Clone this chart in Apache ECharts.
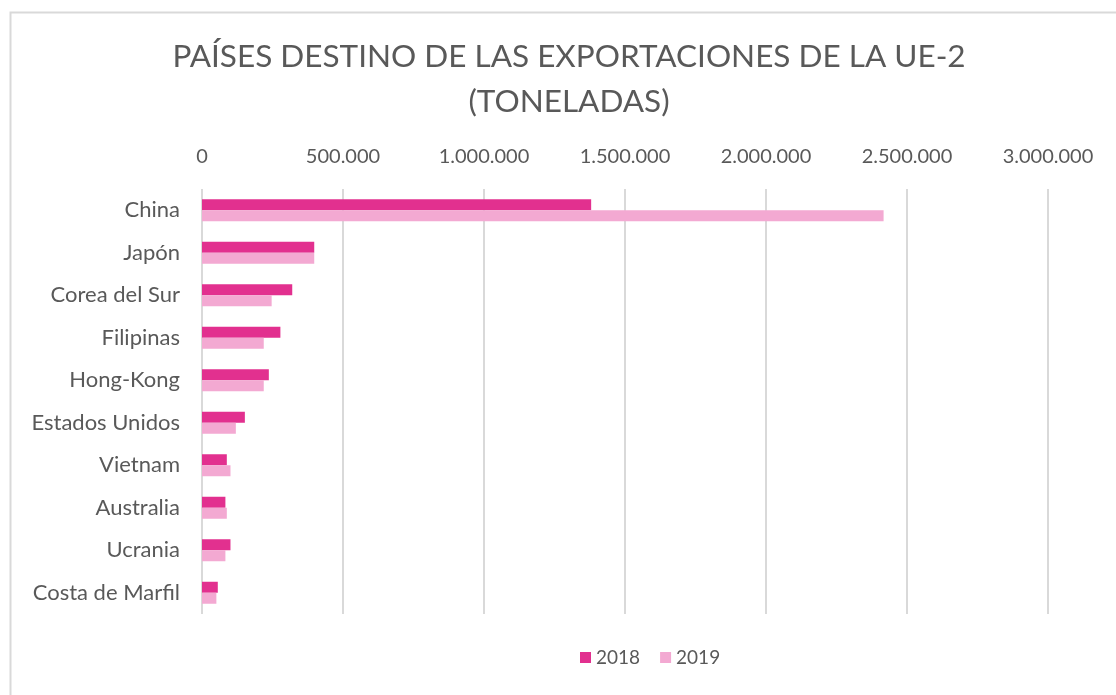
<!DOCTYPE html>
<html>
<head>
<meta charset="utf-8">
<script src="https://cdn.jsdelivr.net/npm/echarts@6/dist/echarts.min.js"></script>
<style>
  html, body { margin: 0; padding: 0; background: #fff; }
  #main { width: 1116px; height: 695px; }
</style>
</head>
<body>
<div id="main"></div>
<script>
// datos (toneladas)
var paises = ['China', 'Japón', 'Corea del Sur', 'Filipinas', 'Hong-Kong',
  'Estados Unidos', 'Vietnam', 'Australia', 'Ucrania', 'Costa de Marfil'];
var valores2018 = [1380000, 398000, 320000, 278000, 237000, 152000, 88000, 83000, 101000, 56000];
var valores2019 = [2417000, 398000, 247000, 219000, 219000, 120000, 101000, 88000, 83000, 51000];
var ticksX = [0, 500000, 1000000, 1500000, 2000000, 2500000, 3000000];

var fuente = 'Lato, "Open Sans", sans-serif';
var gris = '#595959';

function puntos(v) {
  return String(v).replace(/\B(?=(\d{3})+(?!\d))/g, '.');
}

var myChart = echarts.init(document.getElementById('main'));

var option = {
  backgroundColor: '#fff',
  animation: false,
  textStyle: { fontFamily: fuente, color: gris },
  graphic: [{
    type: 'rect',
    left: 8, top: 10,
    shape: { width: 1120, height: 700 },
    style: { fill: 'none', stroke: '#d9d9d9', lineWidth: 2 },
    silent: true
  }],
  title: {
    text: 'PAÍSES DESTINO DE LAS EXPORTACIONES DE LA UE-2\n(TONELADAS)',
    left: 564,
    textAlign: 'center',
    top: 29,
    textStyle: {
      fontFamily: fuente,
      fontSize: 31.5,
      fontWeight: 'normal',
      color: gris,
      lineHeight: 45
    }
  },
  legend: {
    bottom: 23,
    left: 575,
    itemWidth: 11,
    itemHeight: 11,
    itemGap: 20,
    icon: 'rect',
    textStyle: { fontFamily: fuente, fontSize: 19, color: gris },
    data: ['2018', '2019']
  },
  grid: {
    left: 202,
    right: 68,
    top: 189,
    bottom: 81,
    containLabel: false
  },
  xAxis: {
    type: 'value',
    position: 'top',
    min: ticksX[0],
    max: ticksX[ticksX.length - 1],
    interval: 500000,
    axisLine: { show: false },
    axisTick: { show: false },
    splitLine: { lineStyle: { color: '#d9d9d9', width: 2 } },
    axisLabel: {
      margin: 22,
      fontFamily: fuente,
      fontSize: 20,
      color: gris,
      formatter: puntos
    }
  },
  yAxis: {
    type: 'category',
    inverse: true,
    data: paises,
    axisLine: { show: false },
    axisTick: { show: false },
    axisLabel: {
      margin: 22,
      fontFamily: fuente,
      fontSize: 22,
      color: gris
    }
  },
  series: [
    {
      name: '2018',
      type: 'bar',
      data: valores2018,
      barWidth: 11,
      barGap: 0,
      itemStyle: { color: '#E2308F' }
    },
    {
      name: '2019',
      type: 'bar',
      data: valores2019,
      barWidth: 11,
      barGap: 0,
      itemStyle: { color: '#F3A9D2' }
    }
  ]
};

myChart.setOption(option);
</script>
</body>
</html>
